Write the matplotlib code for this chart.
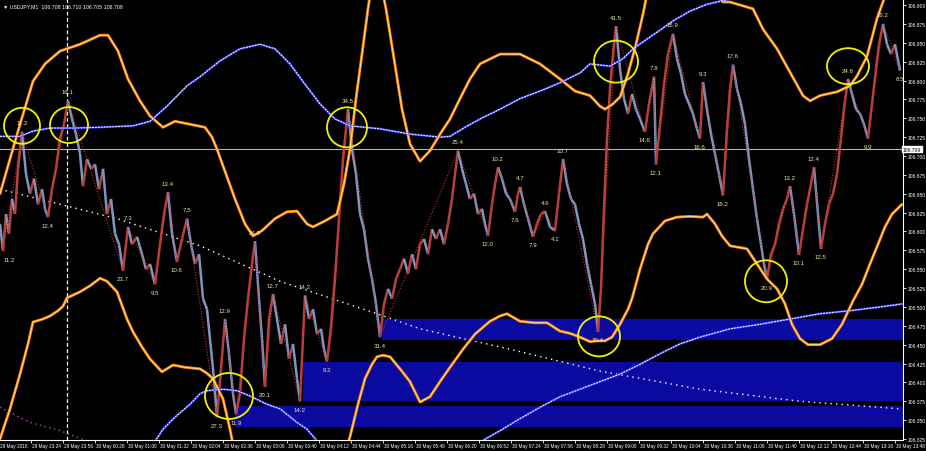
import numpy as np
import matplotlib
matplotlib.use("Agg")
import matplotlib.pyplot as plt
from matplotlib.collections import LineCollection
from matplotlib.patches import Ellipse
import matplotlib.transforms as mtransforms

plt.rcParams['font.family'] = ['Liberation Sans', 'DejaVu Sans']

# ---------------- data ----------------
price_time = [0, 3, 6, 9, 12, 15, 18, 22,
              26, 30, 34, 38, 42, 45, 48,
              52, 56, 60, 64, 68,
              72, 76, 80, 83, 87, 91, 95, 99, 103, 107, 111, 115, 119, 123,
              128, 132, 137, 142, 146, 150, 155,
              160, 164, 168, 172, 177, 182, 187,
              191, 195, 199, 203, 207, 211, 214, 217, 221, 225, 229, 233, 236,
              240, 244, 248, 252, 255, 259, 262, 265, 269, 273, 277, 281, 285, 289, 293, 297, 300,
              305, 309, 313, 317, 321, 324, 327,
              331, 335, 339, 343, 348,
              352, 356, 360, 364, 368, 372, 376, 380,
              384, 388, 392, 396, 400, 404, 408, 412, 416, 420, 424, 428, 432, 436, 440, 444, 448, 452, 455, 458,
              462, 466, 470, 474, 478, 482, 485, 488,
              492, 495, 498, 502, 506, 510, 515, 518, 520, 524, 528, 533, 537, 541, 545, 550, 555, 559, 563,
              567, 571, 575, 579, 583, 587, 591, 595, 598,
              601, 604, 607, 610, 613, 616,
              620, 624, 628, 632, 636, 640, 645, 649, 654, 656,
              660, 664, 668, 673, 677, 681, 685, 689, 693, 697, 700, 703,
              707, 711, 715, 719, 723, 727, 730, 733,
              737, 741, 745, 749, 753, 757, 761, 764, 767,
              771, 775, 779, 783, 787, 790, 794, 799, 803, 807, 811, 814, 818, 821,
              825, 829, 833, 837, 841, 844, 848,
              852, 856, 860, 864, 868, 872, 876, 879, 883, 887, 891, 895, 900]
price_close = [106.610, 106.574, 106.623, 106.597, 106.643, 106.623, 106.683, 106.732,
               106.676, 106.650, 106.670, 106.636, 106.656, 106.630, 106.619,
               106.656, 106.683, 106.723, 106.742, 106.773,
               106.749, 106.729, 106.703, 106.660, 106.696, 106.683, 106.689, 106.656, 106.683, 106.623, 106.643, 106.597, 106.583, 106.548,
               106.606, 106.583, 106.593, 106.570, 106.550, 106.557, 106.530,
               106.583, 106.623, 106.652, 106.597, 106.560, 106.590, 106.617,
               106.583, 106.557, 106.570, 106.511, 106.497, 106.444, 106.405, 106.354, 106.418, 106.484, 106.438, 106.385, 106.358,
               106.385, 106.458, 106.511, 106.557, 106.587, 106.511, 106.458, 106.394, 106.484, 106.517, 106.484, 106.451, 106.477, 106.431, 106.451, 106.405, 106.375,
               106.515, 106.484, 106.497, 106.464, 106.471, 106.444, 106.428,
               106.471, 106.537, 106.617, 106.696, 106.762,
               106.709, 106.676, 106.623, 106.603, 106.564, 106.537, 106.504, 106.460,
               106.504, 106.524, 106.511, 106.537, 106.550, 106.564, 106.544, 106.570, 106.550, 106.583, 106.590, 106.570, 106.603, 106.590, 106.603, 106.583, 106.610, 106.643, 106.676, 106.707,
               106.683, 106.663, 106.643, 106.650, 106.623, 106.630, 106.610, 106.594,
               106.636, 106.663, 106.685, 106.670, 106.650, 106.643, 106.626, 106.650, 106.659, 106.636, 106.617, 106.593, 106.610, 106.623, 106.627, 106.606, 106.601, 106.650, 106.696,
               106.663, 106.643, 106.636, 106.610, 106.590, 106.557, 106.530, 106.504, 106.467,
               106.524, 106.630, 106.723, 106.789, 106.835, 106.872,
               106.815, 106.776, 106.756, 106.782, 106.762, 106.749, 106.732, 106.769, 106.805, 106.689,
               106.742, 106.795, 106.835, 106.862, 106.829, 106.809, 106.782, 106.769, 106.756, 106.736, 106.723, 106.798,
               106.762, 106.729, 106.703, 106.676, 106.648, 106.736, 106.789, 106.821,
               106.789, 106.769, 106.742, 106.696, 106.656, 106.617, 106.583, 106.557, 106.537,
               106.570, 106.583, 106.610, 106.630, 106.643, 106.660, 106.623, 106.569, 106.603, 106.636, 106.663, 106.685, 106.623, 106.577,
               106.610, 106.636, 106.650, 106.676, 106.723, 106.762, 106.802,
               106.782, 106.762, 106.756, 106.742, 106.723, 106.769, 106.815, 106.848, 106.875, 106.848, 106.835, 106.848, 106.813]

zz_time = [3, 22, 48, 68, 123, 128, 155, 168, 177, 187, 217, 225, 236, 255, 265, 273, 300, 305, 327, 348,
           380, 458, 488, 498, 515, 520, 533, 545, 555, 563, 598, 616, 645, 654, 656, 673, 700, 703, 723, 733,
           767, 790, 799, 814, 821, 848, 868, 883, 900]
zz_price = [106.574, 106.732, 106.619, 106.773, 106.548, 106.606, 106.530, 106.652, 106.560, 106.617,
            106.354, 106.484, 106.358, 106.587, 106.394, 106.517, 106.375, 106.515, 106.428, 106.762,
            106.460, 106.707, 106.594, 106.685, 106.626, 106.659, 106.593, 106.627, 106.601, 106.696,
            106.467, 106.872, 106.732, 106.805, 106.689, 106.862, 106.723, 106.798, 106.648, 106.821,
            106.537, 106.660, 106.569, 106.685, 106.577, 106.802, 106.723, 106.875, 106.813]
zz_text = ["11.2", "11.2", "12.4", "16.1", "23.7", "7.3", "9.5", "13.4", "10.6", "7.5",
           "27.3", "12.9", "11.9", "24.5", "20.1", "12.7", "14.2", "14.2", "9.2", "34.5",
           "31.4", "25.4", "12.0", "10.2", "7.6", "4.7", "7.9", "4.6", "4.1", "10.7",
           "20.4", "41.5", "14.6", "7.8", "12.1", "16.9", "16.6", "9.3", "16.2", "17.6",
           "20.9", "13.2", "10.1", "12.4", "12.5", "24.6", "9.9", "16.2", "8.5"]
zz_kind = ["L", "H"] * 24 + ["L"]

ub_time = [0, 10, 20, 33, 45, 60, 80, 100, 108, 118, 128, 140, 150, 163, 175, 190, 205, 212, 217, 226,
           235, 245, 253, 262, 275, 287, 297, 307, 313, 325, 337, 344, 350, 356, 362, 368, 374, 380, 386, 394,
           402, 410, 420, 430, 440, 450, 460, 470, 480, 500, 520, 540, 560, 575, 590, 600, 605, 612, 620, 628,
           636, 643, 650, 680, 710, 723, 730, 753, 763, 777, 790, 803, 810, 820, 837, 850, 857, 867, 877, 884, 892]
ub_price = [106.650, 106.696, 106.742, 106.799, 106.822, 106.839, 106.848, 106.860, 106.860, 106.839,
            106.802, 106.773, 106.753, 106.738, 106.746, 106.742, 106.738, 106.725, 106.709, 106.676,
            106.643, 106.610, 106.594, 106.601, 106.617, 106.626, 106.627, 106.610, 106.606, 106.614,
            106.623, 106.663, 106.709, 106.776, 106.835, 106.895, 106.948, 106.934, 106.895, 106.829,
            106.762, 106.716, 106.693, 106.707, 106.729, 106.749, 106.776, 106.802, 106.822, 106.835,
            106.835, 106.822, 106.802, 106.786, 106.780, 106.766, 106.762, 106.768, 106.778, 106.809,
            106.848, 106.888, 106.934, 106.961, 106.921, 106.904, 106.904, 106.895, 106.868, 106.842,
            106.811, 106.780, 106.773, 106.780, 106.785, 106.793, 106.806, 106.832, 106.882, 106.908, 106.948]

lb_time = [0, 10, 20, 28, 33, 43, 50, 58, 63, 67, 80, 90, 100, 107, 117, 127, 133, 142, 150, 162,
           173, 185, 200, 207, 213, 223, 230, 236, 290, 340, 350, 358, 365, 372, 377, 383, 390, 400, 410, 420,
           430, 440, 450, 463, 475, 490, 500, 507, 520, 535, 547, 560, 570, 580, 590, 597, 605, 612, 620, 628,
           632, 640, 648, 653, 665, 677, 690, 703, 707, 715, 722, 730, 747, 757, 767, 777, 785, 792, 800, 808,
           820, 832, 842, 853, 862, 870, 878, 885, 892, 902]
lb_price = [106.325, 106.365, 106.411, 106.451, 106.480, 106.484, 106.488, 106.495, 106.501, 106.512,
            106.520, 106.528, 106.538, 106.534, 106.520, 106.484, 106.467, 106.447, 106.431, 106.414,
            106.423, 106.420, 106.418, 106.412, 106.405, 106.378, 106.338, 106.298, 106.285, 106.285,
            106.328, 106.371, 106.405, 106.424, 106.434, 106.436, 106.434, 106.418, 106.401, 106.374,
            106.381, 106.401, 106.420, 106.444, 106.464, 106.481, 106.488, 106.491, 106.481, 106.479,
            106.479, 106.468, 106.465, 106.460, 106.454, 106.455, 106.455, 106.460, 106.477, 106.497,
            106.511, 106.550, 106.583, 106.597, 106.614, 106.619, 106.620, 106.619, 106.623, 106.610,
            106.594, 106.581, 106.577, 106.557, 106.537, 106.524, 106.504, 106.477, 106.458, 106.450,
            106.450, 106.458, 106.477, 106.508, 106.530, 106.557, 106.583, 106.606, 106.623, 106.636]

ma_time = [0, 20, 33, 50, 73, 100, 133, 150, 167, 187, 200, 220, 240, 260, 275, 290, 305, 320, 335, 350,
           380, 410, 440, 450, 465, 480, 500, 520, 540, 560, 580, 590, 610, 623, 633, 657, 673, 690, 707, 730,
           760, 800]
ma_price = [106.726, 106.726, 106.733, 106.737, 106.737, 106.738, 106.740, 106.746, 106.766, 106.793,
            106.805, 106.826, 106.842, 106.848, 106.842, 106.822, 106.795, 106.769, 106.749, 106.740,
            106.736, 106.729, 106.725, 106.726, 106.738, 106.749, 106.762, 106.776, 106.786, 106.797,
            106.810, 106.822, 106.819, 106.829, 106.842, 106.864, 106.879, 106.892, 106.901, 106.908,
            106.915, 106.934]

sma_time = [150, 163, 175, 190, 200, 207, 223, 237, 250, 267, 280, 297, 307, 318, 330, 460, 480, 500, 520,
            540, 560, 580, 600, 620, 640, 660, 680, 700, 730, 760, 790, 820, 850, 880, 902]
sma_price = [106.312, 106.338, 106.354, 106.371, 106.385, 106.389, 106.391, 106.389, 106.382, 106.371,
             106.365, 106.347, 106.338, 106.321, 106.298, 106.298, 106.321, 106.336, 106.352, 106.367,
             106.381, 106.391, 106.401, 106.411, 106.424, 106.438, 106.451, 106.460, 106.471, 106.477,
             106.484, 106.491, 106.495, 106.500, 106.504]

tr_time = [0, 60, 117, 200, 280, 377, 420, 510, 600, 700, 800, 900]
tr_price = [106.656, 106.636, 106.617, 106.581, 106.534, 106.491, 106.471, 106.444, 106.415, 106.391,
            106.375, 106.365]

pu_time = [0, 30, 60, 90]
pu_price = [106.367, 106.347, 106.336, 106.321]

zone_start = [382, 303, 235]
zone_top = [106.484, 106.427, 106.369]
zone_bottom = [106.456, 106.375, 106.341]

circle_time = [22, 69, 347, 616, 848, 766, 599, 229]
circle_price = [106.740, 106.741, 106.738, 106.825, 106.819, 106.534, 106.461, 106.382]
circle_rx = [18, 19, 20, 22, 21, 21, 21, 24]
circle_ry = [18, 18, 20, 21, 18, 21, 20, 23]

tick_minutes = [-1 + 32 * i for i in range(29)]
tick_labels = ["29 May 2018", "29 May 23:24", "29 May 23:56", "30 May 00:28", "30 May 01:00",
               "30 May 01:32", "30 May 02:04", "30 May 02:36", "30 May 03:08", "30 May 03:40",
               "30 May 04:12", "30 May 04:44", "30 May 05:16", "30 May 05:48", "30 May 06:20",
               "30 May 06:52", "30 May 07:24", "30 May 07:56", "30 May 08:28", "30 May 09:00",
               "30 May 09:32", "30 May 10:04", "30 May 10:36", "30 May 11:08", "30 May 11:40",
               "30 May 12:12", "30 May 12:44", "30 May 13:16", "30 May 13:48"]
price_ticks = [round(106.325 + 0.025 * i, 3) for i in range(24)]
current_price = 106.709
day_separator = 67
header = "\u25bc USDJPY,M1  106.708 106.710 106.705 106.708"

# ---------------- figure ----------------
W, H = 926, 452
fig = plt.figure(figsize=(W / 100, H / 100), dpi=100, facecolor='black')
ax = fig.add_axes([0, 11 / H, 903 / W, 441 / H])
ax.set_facecolor('black')
XMAX = 903
YLO, YHI = 106.3237, 106.908
ax.set_xlim(0, XMAX)
ax.set_ylim(YLO, YHI)
PX = (YHI - YLO) / 441.0

# zones
for s, t, b in zip(zone_start, zone_top, zone_bottom):
    ax.fill_between([s, XMAX], b, t, color='#0a0aa0', lw=0, zorder=1)

# separator and current price line
ax.axvline(day_separator, color='white', lw=0.9, ls=(0, (3, 2)), zorder=2)
ax.axhline(current_price, color='#b4b4b4', lw=0.8, zorder=2)

# trend / purple dotted
ax.plot(tr_time, tr_price, color='white', lw=1.0, ls=(0, (1, 3)), zorder=3)
ax.plot(pu_time, pu_price, color='#b050b0', lw=1.0, ls=(0, (1, 2.5)), zorder=3)

# bands (orange double line)
for tx, py in ((ub_time, ub_price), (lb_time, lb_price)):
    ax.plot(tx, py, color='#ff8c00', lw=2.0, zorder=5, solid_capstyle='round')
    ax.plot(tx, py, color='#ffe6b8', lw=0.55, zorder=5.1)

# moving averages (blue/white)
for tx, py in ((ma_time, ma_price), (sma_time, sma_price)):
    ax.plot(tx, py, color='#3a3aff', lw=1.6, zorder=5)
    ax.plot(tx, py, color='white', lw=0.7, ls=(0, (2, 1)), zorder=5.1)

# price
pts = np.column_stack([price_time, price_close])
segs = np.stack([pts[:-1], pts[1:]], axis=1)
cols = ['#b8423c' if b >= a else '#7f95c2' for a, b in zip(price_close[:-1], price_close[1:])]
ax.add_collection(LineCollection(segs, colors=cols, linewidths=1.8, zorder=4))

# zigzag
ax.plot(zz_time, zz_price, color='#c83232', lw=0.8, ls=(0, (1, 1.5)), zorder=4.5)
for i, (t, p, s, k) in enumerate(zip(zz_time, zz_price, zz_text, zz_kind)):
    dx = 6 if i == 0 else 0
    ax.annotate(s, (t, p), xytext=(dx, 9 if k == 'H' else -8), textcoords='offset pixels',
                ha='center', va='center', fontsize=4.4, color='#e8e8a4', zorder=8,
                annotation_clip=False)

# circles
for t, p, rx, ry in zip(circle_time, circle_price, circle_rx, circle_ry):
    ax.add_patch(Ellipse((t, p), width=2 * rx, height=2 * ry * PX, fill=False,
                         ec='#f2f200', lw=1.3, zorder=9))

# header
ax.text(0.003, 0.985, header, transform=ax.transAxes, fontsize=3.8, color='white',
        va='center', ha='left', zorder=10)

# axes styling
for sp in ('left', 'top'):
    ax.spines[sp].set_visible(False)
for sp in ('bottom', 'right'):
    ax.spines[sp].set_color('white')
    ax.spines[sp].set_linewidth(0.8)

ax.set_xticks([m for m in tick_minutes if m >= 0])
ax.tick_params(axis='x', colors='white', length=2, width=0.6, labelbottom=False)
trans = mtransforms.blended_transform_factory(ax.transData, ax.transAxes)
for m, lab in zip(tick_minutes, tick_labels):
    ax.text(m + 0.5, -0.006, lab, transform=trans, ha='left', va='top', fontsize=3.4,
            color='white', clip_on=False)

ax.yaxis.tick_right()
ax.set_yticks(price_ticks)
ax.set_yticklabels([f"{v:.3f}" for v in price_ticks])
ax.tick_params(axis='y', colors='white', labelsize=3.6, length=2, width=0.6, pad=1)

ax.text(1.0, current_price, f"{current_price:.3f}",
        transform=mtransforms.blended_transform_factory(ax.transAxes, ax.transData),
        ha='left', va='center', fontsize=3.6, color='black', zorder=11, clip_on=False,
        bbox=dict(boxstyle='square,pad=0.15', fc='white', ec='white'))

fig.savefig('out.png', dpi=100, facecolor='black')
